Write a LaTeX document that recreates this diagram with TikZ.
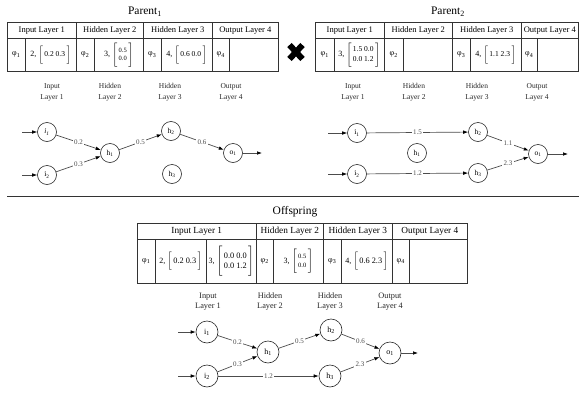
\RequirePackage{fix-cm}
\documentclass[tikz,border=0pt]{standalone}
\usepackage{fontspec}
\setmainfont{Liberation Serif}
\usetikzlibrary{arrows.meta}

% one table cell: style, name, x, y (top), width, height, content
\newcommand\tcell[7]{\node[#1,minimum width=#5pt,minimum height=#6pt] (#2) at (#3,#4) {#7};}
% a gene: prefix, bracket height, number font, rows of values
\newcommand\gene[4]{#1,\ $\left[\vcenter{\hbox{\rule{0pt}{#2}}}\,\vcenter{\hbox{#3\begin{tabular}{@{}c@{}}#4\end{tabular}}}\,\right]$}
\newcommand\phisub[1]{φ\textsubscript{#1}}

\begin{document}
\begin{tikzpicture}[x=1pt,y=-1pt,
  cellbox/.style={draw=black!80, line width=0.6pt, inner sep=0pt, anchor=north west,
    font=\fontsize{8}{9}\selectfont},
  hdr/.style={cellbox, font=\fontsize{8.5}{10}\selectfont},
  ohdr/.style={cellbox, font=\fontsize{9.3}{11}\selectfont},
  neuron/.style={circle, draw=black!85, line width=0.6pt, minimum size=19pt, inner sep=0pt,
    font=\fontsize{7.5}{8}\selectfont},
  bigneuron/.style={neuron, minimum size=22pt, font=\fontsize{8}{9}\selectfont},
  conn/.style={draw=black!70, line width=0.7pt, -{Latex[length=5pt,width=3.6pt,black]}},
  wlabel/.style={fill=white, inner sep=1.2pt, text=black!70, font=\fontsize{7}{8}\selectfont},
  layerlbl/.style={align=center, font=\fontsize{7.5}{11}\selectfont, text=black!85},
  olayerlbl/.style={align=center, font=\fontsize{8.3}{10}\selectfont, text=black!85},
  title/.style={font=\fontsize{11.5}{13}\selectfont}
]
\useasboundingbox (0,0) rectangle (579,394);

% ---------------- Parent 1 ----------------
\node[title] (t1) at (145,12) {Parent\textsubscript{1}};
\tcell{hdr}{pa-h1}{7}{22}{69}{16}{Input Layer 1}
\tcell{hdr}{pa-h2}{76}{22}{67}{16}{Hidden Layer 2}
\tcell{hdr}{pa-h3}{143}{22}{69}{16}{Hidden Layer 3}
\tcell{hdr}{pa-h4}{212}{22}{66}{16}{Output Layer 4}
\tcell{cellbox}{pa-f1}{7}{38}{18}{33}{\phisub{1}}
\tcell{cellbox}{pa-g1}{25}{38}{51}{33}{\gene{2}{19pt}{\fontsize{7.5}{9}\selectfont}{0.2 0.3}}
\tcell{cellbox}{pa-f2}{76}{38}{18}{33}{\phisub{2}}
\tcell{cellbox}{pa-g2}{94}{38}{49}{33}{\gene{3}{25pt}{\fontsize{6.5}{8.5}\selectfont}{0.5\\0.0}}
\tcell{cellbox}{pa-f3}{143}{38}{18}{33}{\phisub{3}}
\tcell{cellbox}{pa-g3}{161}{38}{51}{33}{\gene{4}{19pt}{\fontsize{7.5}{9}\selectfont}{0.6 0.0}}
\tcell{cellbox}{pa-f4}{212}{38}{17}{33}{\phisub{4}}
\tcell{cellbox}{pa-g4}{229}{38}{49}{33}{}

\node[layerlbl] (pa-l1) at (52,92.5) {Input\\Layer 1};
\node[layerlbl] (pa-l2) at (110,92.5) {Hidden\\Layer 2};
\node[layerlbl] (pa-l3) at (170,92.5) {Hidden\\Layer 3};
\node[layerlbl] (pa-l4) at (231,92.5) {Output\\Layer 4};

\node[neuron] (pa-i1) at (47,132) {\textit{i\textsubscript{1}}};
\node[neuron] (pa-i2) at (47,175) {i\textsubscript{2}};
\node[neuron] (pa-h1n) at (110,153) {h\textsubscript{1}};
\node[neuron] (pa-h2n) at (171,131) {h\textsubscript{2}};
\node[neuron] (pa-h3n) at (172,174) {h\textsubscript{3}};
\node[neuron] (pa-o1) at (233,153) {o\textsubscript{1}};
\coordinate (pa-in1) at (22,132);
\coordinate (pa-in2) at (22,175);
\coordinate (pa-out) at (262,153);
\draw[conn] (pa-in1) -- (pa-i1);
\draw[conn] (pa-in2) -- (pa-i2);
\draw[conn] (pa-i1) -- node[wlabel] {0.2} (pa-h1n);
\draw[conn] (pa-i2) -- node[wlabel] {0.3} (pa-h1n);
\draw[conn] (pa-h1n) -- node[wlabel] {0.5} (pa-h2n);
\draw[conn] (pa-h2n) -- node[wlabel] {0.6} (pa-o1);
\draw[conn] (pa-o1) -- (pa-out);

% ---------------- crossover mark ----------------
\draw[line width=6pt] (289.5,45) -- (302.5,59) (289.5,59) -- (302.5,45);

% ---------------- Parent 2 ----------------
\node[title] (t2) at (448,12) {Parent\textsubscript{2}};
\tcell{hdr}{pb-h1}{315}{22}{69}{16}{Input Layer 1}
\tcell{hdr}{pb-h2}{384}{22}{68}{16}{Hidden Layer 2}
\tcell{hdr}{pb-h3}{452}{22}{69}{16}{Hidden Layer 3}
\tcell{hdr}{pb-h4}{521}{22}{57}{16}{Output Layer 4}
\tcell{cellbox}{pb-f1}{315}{38}{19}{33}{\phisub{1}}
\tcell{cellbox}{pb-g1}{334}{38}{50}{33}{\gene{3}{23pt}{\fontsize{7.5}{9.5}\selectfont}{1.5 0.0\\0.0 1.2}}
\tcell{cellbox}{pb-f2}{384}{38}{19}{33}{\phisub{2}}
\tcell{cellbox}{pb-g2}{403}{38}{49}{33}{}
\tcell{cellbox}{pb-f3}{452}{38}{18}{33}{\phisub{3}}
\tcell{cellbox}{pb-g3}{470}{38}{51}{33}{\gene{4}{19pt}{\fontsize{7.5}{9}\selectfont}{1.1 2.3}}
\tcell{cellbox}{pb-f4}{521}{38}{16}{33}{\phisub{4}}
\tcell{cellbox}{pb-g4}{537}{38}{41}{33}{}

\node[layerlbl] (pb-l1) at (353,92.5) {Input\\Layer 1};
\node[layerlbl] (pb-l2) at (414,92.5) {Hidden\\Layer 2};
\node[layerlbl] (pb-l3) at (477,92.5) {Hidden\\Layer 3};
\node[layerlbl] (pb-l4) at (537,92.5) {Output\\Layer 4};

\node[neuron] (pb-i1) at (357,133) {i\textsubscript{1}};
\node[neuron] (pb-i2) at (357,174) {i\textsubscript{2}};
\node[neuron] (pb-h1n) at (417,153) {h\textsubscript{1}};
\node[neuron] (pb-h2n) at (478,132) {h\textsubscript{2}};
\node[neuron] (pb-h3n) at (478,173) {h\textsubscript{3}};
\node[neuron] (pb-o1) at (538,154) {o\textsubscript{1}};
\coordinate (pb-in1) at (328,133);
\coordinate (pb-in2) at (328,174);
\coordinate (pb-out) at (568,154);
\draw[conn] (pb-in1) -- (pb-i1);
\draw[conn] (pb-in2) -- (pb-i2);
\draw[conn] (pb-i1) -- node[wlabel] {1.5} (pb-h2n);
\draw[conn] (pb-i2) -- node[wlabel] {1.2} (pb-h3n);
\draw[conn] (pb-h2n) -- node[wlabel] {1.1} (pb-o1);
\draw[conn] (pb-h3n) -- node[wlabel] {2.3} (pb-o1);
\draw[conn] (pb-o1) -- (pb-out);

% ---------------- separator ----------------
\coordinate (sep-l) at (7,196);
\coordinate (sep-r) at (579,196);
\draw[line width=1pt, black!80] (sep-l) -- (sep-r);

% ---------------- Offspring ----------------
\node[title] (t3) at (295,212) {Offspring};
\tcell{ohdr}{of-h1}{137}{223}{119}{16}{Input Layer 1}
\tcell{ohdr}{of-h2}{256}{223}{67}{16}{Hidden Layer 2}
\tcell{ohdr}{of-h3}{323}{223}{69}{16}{Hidden Layer 3}
\tcell{ohdr}{of-h4}{392}{223}{75}{16}{Output Layer 4}
\tcell{cellbox}{of-f1}{137}{239}{18}{44}{\phisub{1}}
\tcell{cellbox}{of-g1}{155}{239}{51}{44}{\gene{2}{16pt}{\fontsize{8.3}{10}\selectfont}{0.2 0.3}}
\tcell{cellbox}{of-g2}{206}{239}{50}{44}{\gene{3}{31pt}{\fontsize{8.3}{10.7}\selectfont}{0.0 0.0\\0.0 1.2}}
\tcell{cellbox}{of-f2}{256}{239}{17}{44}{\phisub{2}}
\tcell{cellbox}{of-g3}{273}{239}{50}{44}{\gene{3}{25pt}{\fontsize{6.5}{8.5}\selectfont}{0.5\\0.0}}
\tcell{cellbox}{of-f3}{323}{239}{18}{44}{\phisub{3}}
\tcell{cellbox}{of-g4}{341}{239}{51}{44}{\gene{4}{16pt}{\fontsize{8.3}{10}\selectfont}{0.6 2.3}}
\tcell{cellbox}{of-f4}{392}{239}{17}{44}{\phisub{4}}
\tcell{cellbox}{of-g5}{409}{239}{58}{44}{}

\node[olayerlbl] (of-l1) at (208,302) {Input\\Layer 1};
\node[olayerlbl] (of-l2) at (270,302) {Hidden\\Layer 2};
\node[olayerlbl] (of-l3) at (330,302) {Hidden\\Layer 3};
\node[olayerlbl] (of-l4) at (390,302) {Output\\Layer 4};

\node[bigneuron] (of-i1) at (207,332) {i\textsubscript{1}};
\node[bigneuron] (of-i2) at (207,376) {i\textsubscript{2}};
\node[bigneuron] (of-h1n) at (268,352) {h\textsubscript{1}};
\node[bigneuron] (of-h2n) at (331,330) {h\textsubscript{2}};
\node[bigneuron] (of-h3n) at (330,376) {h\textsubscript{3}};
\node[bigneuron] (of-o1) at (390,353) {o\textsubscript{1}};
\coordinate (of-in1) at (178,332);
\coordinate (of-in2) at (178,376);
\coordinate (of-out) at (418,353);
\draw[conn] (of-in1) -- (of-i1);
\draw[conn] (of-in2) -- (of-i2);
\draw[conn] (of-i1) -- node[wlabel] {0.2} (of-h1n);
\draw[conn] (of-i2) -- node[wlabel] {0.3} (of-h1n);
\draw[conn] (of-i2) -- node[wlabel] {1.2} (of-h3n);
\draw[conn] (of-h1n) -- node[wlabel] {0.5} (of-h2n);
\draw[conn] (of-h2n) -- node[wlabel] {0.6} (of-o1);
\draw[conn] (of-h3n) -- node[wlabel] {2.3} (of-o1);
\draw[conn] (of-o1) -- (of-out);
\end{tikzpicture}
\end{document}
